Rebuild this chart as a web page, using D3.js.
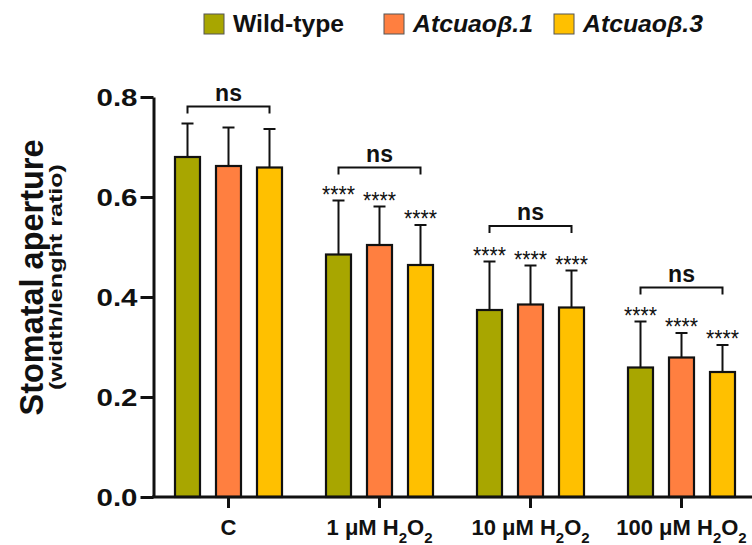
<!DOCTYPE html>
<html>
<head>
<meta charset="utf-8">
<script src="https://cdn.jsdelivr.net/npm/d3@7"></script>
<style>
  html, body { margin: 0; padding: 0; background: #fff; }
  svg { display: block; font-family: "Liberation Sans", Arial, sans-serif; }
</style>
</head>
<body>
<div id="chart"></div>
<script>
// Stomatal aperture per treatment, three genotypes, mean + SD
const categories = ["C", "1 μM H2O2", "10 μM H2O2", "100 μM H2O2"];
const seriesNames = ["Wild-type", "Atcuaoβ.1", "Atcuaoβ.3"];
const seriesColors = ["#a8a600", "#ff7f40", "#ffc000"];
const wildType = [0.680, 0.485, 0.374, 0.259];
const wildTypeSD = [0.067, 0.108, 0.097, 0.092];
const line1 = [0.662, 0.504, 0.385, 0.279];
const line1SD = [0.077, 0.077, 0.078, 0.049];
const line3 = [0.659, 0.464, 0.379, 0.250];
const line3SD = [0.077, 0.080, 0.074, 0.054];
// significance vs control, and the "ns" bracket height (data units) for each group
const stars = ["", "****", "****", "****"];
const bracketAt = [0.781, 0.659, 0.542, 0.419];
const yTicks = [0.0, 0.2, 0.4, 0.6, 0.8];

const W = 752, H = 545;
const svg = d3.select("#chart").append("svg").attr("width", W).attr("height", H);

const x = d3.scaleBand().domain(categories).range([153, 757]);
const xi = d3.scalePoint().domain(seriesNames).range([-41, 41]);
const y = d3.scaleLinear().domain([0, 0.8]).range([497, 97]);
const BW = 27;

const means = [wildType, line1, line3], sds = [wildTypeSD, line1SD, line3SD];
const rows = [];
categories.forEach((c, ci) => seriesNames.forEach((s, si) => {
  rows.push({ cat: c, ci, s, si, v: means[si][ci], sd: sds[si][ci] });
}));
const cx = d => x(d.cat) + x.bandwidth() / 2 + xi(d.s);

// bars
svg.append("g").selectAll("rect").data(rows).join("rect")
  .attr("x", d => cx(d) - BW / 2 + 1).attr("width", BW - 2)
  .attr("y", d => y(d.v)).attr("height", d => y(0) - y(d.v))
  .attr("fill", d => seriesColors[d.si])
  .attr("stroke", "#111").attr("stroke-width", 2.2);

// error bars (upper only)
const eb = svg.append("g").attr("stroke", "#111").attr("stroke-width", 2);
eb.selectAll("line.v").data(rows).join("line").attr("class", "v")
  .attr("x1", cx).attr("x2", cx)
  .attr("y1", d => y(d.v)).attr("y2", d => y(d.v + d.sd));
eb.selectAll("line.c").data(rows).join("line").attr("class", "c")
  .attr("x1", d => cx(d) - 6).attr("x2", d => cx(d) + 6)
  .attr("y1", d => y(d.v + d.sd)).attr("y2", d => y(d.v + d.sd));

// stars
svg.append("g").selectAll("text").data(rows.filter(d => stars[d.ci])).join("text")
  .attr("x", cx).attr("y", d => y(d.v + d.sd) + 2)
  .attr("text-anchor", "middle").attr("font-size", 23).attr("fill", "#111")
  .attr("textLength", 33).attr("lengthAdjust", "spacingAndGlyphs")
  .text(d => stars[d.ci]);

// ns brackets
const br = svg.append("g");
categories.forEach((c, ci) => {
  const xl = x(c) + x.bandwidth() / 2 + xi(seriesNames[0]);
  const xr = x(c) + x.bandwidth() / 2 + xi(seriesNames[2]);
  const by = y(bracketAt[ci]);
  br.append("path")
    .attr("d", `M${xl},${by + 7}V${by}H${xr}V${by + 7}`)
    .attr("fill", "none").attr("stroke", "#111").attr("stroke-width", 2);
  br.append("text").attr("x", (xl + xr) / 2).attr("y", by - 6)
    .attr("text-anchor", "middle").attr("font-size", 23).attr("font-weight", "bold")
    .attr("fill", "#111")
    .text("ns");
});

// y axis
const ya = svg.append("g").attr("transform", "translate(153.5,0)")
  .call(d3.axisLeft(y).tickValues(yTicks).tickFormat(d3.format(".1f"))
    .tickSize(13).tickSizeOuter(0).tickPadding(3));
ya.select(".domain").attr("stroke-width", 3).attr("stroke", "#111");
ya.selectAll(".tick line").attr("stroke-width", 3).attr("stroke", "#111");
ya.selectAll(".tick text").attr("font-size", 24).attr("font-weight", "bold")
  .attr("fill", "#111").attr("dy", "0.36em")
  .attr("textLength", 41).attr("lengthAdjust", "spacingAndGlyphs");

// x axis
const xa = svg.append("g").attr("transform", "translate(0,497)")
  .call(d3.axisBottom(x).tickSize(11).tickSizeOuter(0).tickFormat(""));
xa.select(".domain").attr("stroke-width", 3).attr("stroke", "#111")
  .attr("d", "M152,0H752");
xa.selectAll(".tick line").attr("stroke-width", 3).attr("stroke", "#111");
xa.selectAll(".tick text").remove();
xa.selectAll(".tick").each(function (c) {
  const t = d3.select(this).append("text")
    .attr("y", 38).attr("text-anchor", "middle").attr("fill", "#111")
    .attr("font-size", 22).attr("font-weight", "bold");
  const m = c.match(/^(.*)H2O2$/);
  if (!m) { t.text(c); return; }
  t.append("tspan").text(m[1] + "H");
  t.append("tspan").attr("font-size", 15).attr("dy", 8).text("2");
  t.append("tspan").attr("dy", -8).text("O");
  t.append("tspan").attr("font-size", 15).attr("dy", 8).text("2");
});

// y title
svg.append("text")
  .attr("transform", "translate(43,277.5) rotate(-90)")
  .attr("text-anchor", "middle").attr("font-size", 33).attr("font-weight", "bold")
  .attr("fill", "#111")
  .attr("textLength", 276).attr("lengthAdjust", "spacingAndGlyphs")
  .text("Stomatal aperture");
svg.append("text")
  .attr("transform", "translate(62,277) rotate(-90)")
  .attr("text-anchor", "middle").attr("font-size", 18).attr("font-weight", "bold")
  .attr("fill", "#111")
  .attr("textLength", 226).attr("lengthAdjust", "spacingAndGlyphs")
  .text("(width/lenght ratio)");

// legend
const legX = [204, 384, 554], legW = [111, 120, 120];
const lg = svg.append("g");
seriesNames.forEach((s, i) => {
  lg.append("rect").attr("x", legX[i]).attr("y", 14).attr("width", 20).attr("height", 20)
    .attr("fill", seriesColors[i]).attr("stroke", "#555").attr("stroke-width", 1);
  lg.append("text").attr("x", legX[i] + 29).attr("y", 32)
    .attr("font-size", 23).attr("font-weight", "bold")
    .attr("font-style", i ? "italic" : "normal").attr("fill", "#111")
    .attr("textLength", legW[i]).attr("lengthAdjust", "spacingAndGlyphs")
    .text(s);
});
</script>
</body>
</html>
